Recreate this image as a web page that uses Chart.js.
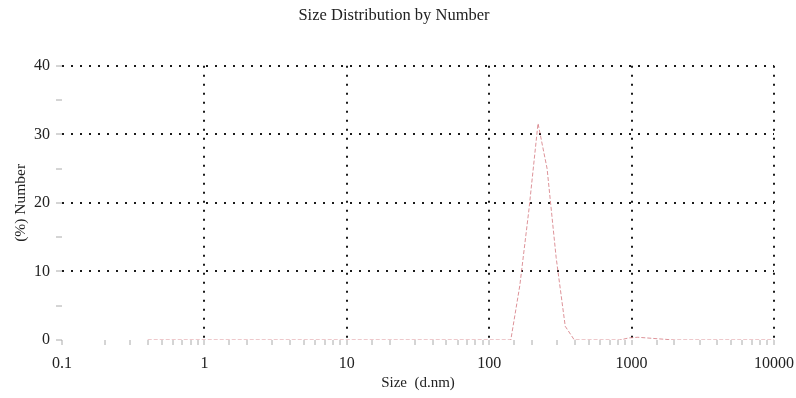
<!DOCTYPE html>
<html>
<head>
<meta charset="utf-8">
<script src="https://cdn.jsdelivr.net/npm/chart.js@4.4.1/dist/chart.umd.min.js"></script>
<style>
  html, body { margin: 0; padding: 0; background: #fff; }
  #wrap { width: 796px; height: 398px; }
</style>
</head>
<body>
<div id="wrap"><canvas id="sizeChart" width="796" height="398"></canvas></div>
<script>
// size bins (d.nm) and % number
const sizes   = [0.4, 141.8, 164.2, 190.1, 220.2, 255, 295.3, 342, 396.1, 825, 955.4, 1106, 1281, 1484, 1718, 1990, 10000];
const numbers = [0,   0,     8,     19,    31.6,  25,  12,    2,   0,     0,   0.3,   0.4,  0.3,  0.2,  0.1,  0,    0];
const xMajorLabels = [0.1, 1, 10, 100, 1000, 10000];
const yLabels = [0, 10, 20, 30, 40];

const SERIF = "'Liberation Serif', 'DejaVu Serif', serif";
const DOT = '#1a1a1a';
const PLOT_RIGHT = 774;

function isMajor(v){
  const l = Math.log10(v);
  return Math.abs(l - Math.round(l)) < 1e-6;
}

// the "10000" label pushes the plot in; stretch it back out to the right edge
const stretchRight = {
  id: 'stretchRight',
  afterLayout(chart){
    const xs = chart.scales.x;
    xs.right = PLOT_RIGHT;
    xs.width = xs.right - xs.left;
    xs.configure();
    chart.chartArea.right = PLOT_RIGHT;
    chart.chartArea.width = PLOT_RIGHT - chart.chartArea.left;
  }
};

const points = sizes.map((s, i) => ({ x: s, y: numbers[i] }));

new Chart(document.getElementById('sizeChart').getContext('2d'), {
  type: 'line',
  data: {
    datasets: [{
      data: points,
      borderColor: 'rgba(212,120,128,0.8)',
      borderWidth: 1,
      borderDash: [4, 2],
      pointRadius: 0,
      tension: 0,
      fill: false
    }]
  },
  options: {
    responsive: false,
    animation: false,
    devicePixelRatio: 1,
    layout: { padding: { left: 0, right: 8, top: 0, bottom: 0 } },
    plugins: {
      legend: { display: false },
      tooltip: { enabled: false },
      title: {
        display: true,
        text: 'Size Distribution by Number',
        color: '#222',
        font: { family: SERIF, size: 16.5, weight: 'normal' },
        padding: { top: 6, bottom: 40 }
      }
    },
    scales: {
      x: {
        type: 'logarithmic',
        min: 0.1,
        max: 10000,
        border: { display: false, dash: [2, 7] },
        afterFit: (s) => { s.height = 58; },
        grid: {
          color: (ctx) => (ctx.tick && isMajor(ctx.tick.value) && ctx.tick.value > 0.1) ? DOT : 'rgba(0,0,0,0)',
          lineWidth: 2,
          tickLength: 5,
          tickColor: '#aaa',
          tickWidth: 1
        },
        ticks: {
          autoSkip: false,
          maxRotation: 0,
          padding: 9,
          color: '#222',
          font: { family: SERIF, size: 16 },
          callback: (v) => {
            if(!isMajor(v)) return '';
            const m = xMajorLabels.find(t => Math.abs(t - v) / t < 1e-6);
            return m === undefined ? '' : String(m);
          }
        },
        title: {
          display: true,
          text: 'Size  (d.nm)',
          color: '#222',
          font: { family: SERIF, size: 15 },
          padding: { top: 0, bottom: 6 }
        }
      },
      y: {
        min: 0,
        max: 40,
        border: { display: false, dash: [2, 7] },
        afterFit: (s) => { s.width = 62; },
        grid: {
          color: (ctx) => (ctx.tick && ctx.tick.value > 0 && ctx.tick.value % 10 === 0) ? DOT : 'rgba(0,0,0,0)',
          lineWidth: 2,
          tickLength: 6,
          tickColor: '#aaa',
          tickWidth: 1
        },
        ticks: {
          stepSize: 5,
          padding: 6,
          color: '#222',
          font: { family: SERIF, size: 16 },
          callback: (v) => yLabels.includes(v) ? String(v) : ''
        },
        title: {
          display: true,
          text: '(%) Number',
          color: '#222',
          font: { family: SERIF, size: 15.5 },
          padding: { top: 12, bottom: 0 }
        }
      }
    }
  },
  plugins: [stretchRight]
});
</script>
</body>
</html>
